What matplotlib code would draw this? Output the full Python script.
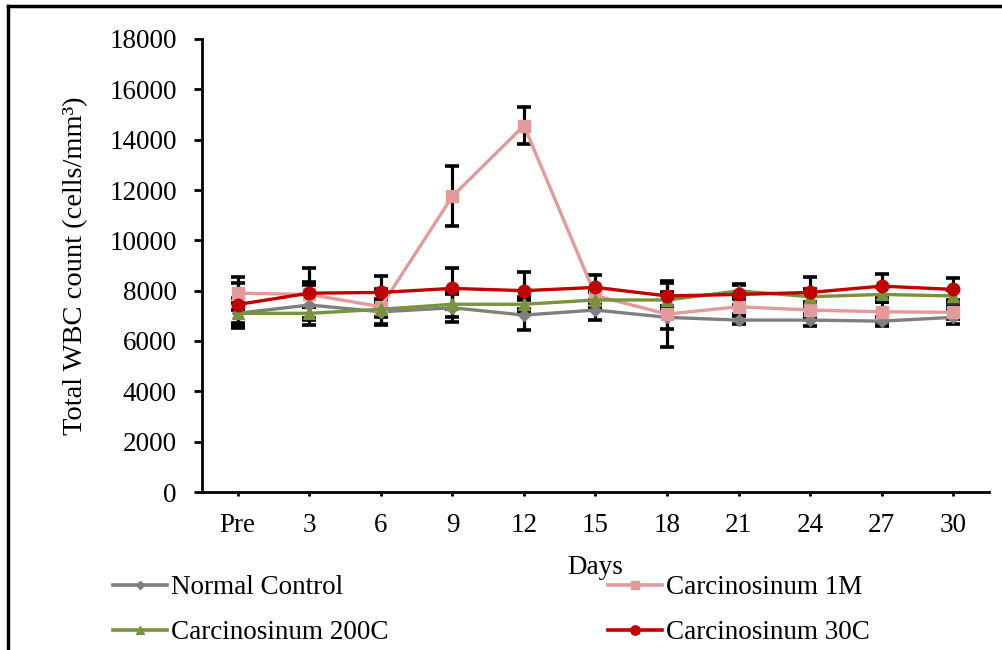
import matplotlib
matplotlib.use("Agg")
import matplotlib.pyplot as plt
from matplotlib.lines import Line2D
import numpy as np

plt.rcParams['font.family'] = ['Liberation Serif', 'DejaVu Serif']

days = ["Pre", "3", "6", "9", "12", "15", "18", "21", "24", "27", "30"]

normal_control = [7100, 7430, 7160, 7320, 7030, 7230, 6940, 6830, 6830, 6790, 6940]
normal_err = [400, 780, 500, 550, 600, 400, 460, 150, 230, 180, 280]

carc_1m = [7900, 7850, 7360, 11750, 14560, 7800, 7070, 7360, 7230, 7160, 7140]
carc_1m_err = [650, 500, 720, 1200, 750, 300, 1300, 300, 300, 400, 250]

carc_200c = [7100, 7100, 7260, 7460, 7460, 7630, 7630, 7990, 7760, 7850, 7790]
carc_200c_err = [600, 270, 300, 490, 300, 300, 300, 250, 300, 300, 230]

carc_30c = [7450, 7900, 7930, 8090, 8000, 8130, 7790, 7850, 7930, 8180, 8050]
carc_30c_err = [850, 1000, 670, 800, 730, 490, 500, 400, 620, 470, 440]

labels = ["Normal Control", "Carcinosinum 1M", "Carcinosinum 200C", "Carcinosinum 30C"]
colors = ["#7F7F7F", "#E29A9A", "#77933C", "#C00000"]
markers = ["D", "s", "^", "o"]
msizes = [6, 8, 8, 9]

FS = 19.5

fig = plt.figure(figsize=(10.03, 6.5), dpi=100)
ax = fig.add_axes([202/1003, 1-492/650, (989-202)/1003, (492-39)/650])

x = np.arange(len(days))
series = [(normal_control, normal_err), (carc_1m, carc_1m_err),
          (carc_200c, carc_200c_err), (carc_30c, carc_30c_err)]
handles = []
for (vals, err), lab, c, m, ms in zip(series, labels, colors, markers, msizes):
    ax.errorbar(x, vals, yerr=err, color=c, marker=m, markersize=ms, lw=2.4,
                ecolor='black', elinewidth=2.3, capsize=5, capthick=2.6,
                markeredgecolor=c, zorder=3)
    handles.append(Line2D([], [], color=c, marker=m, markersize=ms*0.75, lw=2.6))

ax.set_xlim(-0.5, len(days) - 0.5)
ax.set_ylim(0, 18000)
ax.set_yticks(np.arange(0, 18001, 2000))
ax.set_xticks(x)
ax.set_xticklabels(days)
ax.spines['top'].set_visible(False)
ax.spines['right'].set_visible(False)
for s in ['left', 'bottom']:
    ax.spines[s].set_linewidth(2.0)
ax.tick_params(axis='y', direction='out', length=6, width=2.0, labelsize=FS, pad=12)
ax.tick_params(axis='x', direction='out', length=3, width=2.0, labelsize=FS, pad=12)
ax.set_xlabel("Days", fontsize=FS, labelpad=12)
ax.set_ylabel("Total WBC count (cells/mm³)", fontsize=20.5, labelpad=15)

order = [0, 2, 1, 3]
fig.legend([handles[i] for i in order], [labels[i] for i in order],
           loc='upper left', bbox_to_anchor=(113/1003, 1-575/650),
           ncol=2, frameon=False, fontsize=FS, handlelength=2.0, handletextpad=0.15,
           columnspacing=8.1, labelspacing=0.75, borderpad=0, borderaxespad=0)

fig.add_artist(Line2D([8/1003, 8/1003], [0, 1-6/650], transform=fig.transFigure,
                      color='black', lw=2.5))
fig.add_artist(Line2D([8/1003, 1], [1-6/650, 1-6/650], transform=fig.transFigure,
                      color='black', lw=2.5))

fig.savefig("out.png", dpi=100)
